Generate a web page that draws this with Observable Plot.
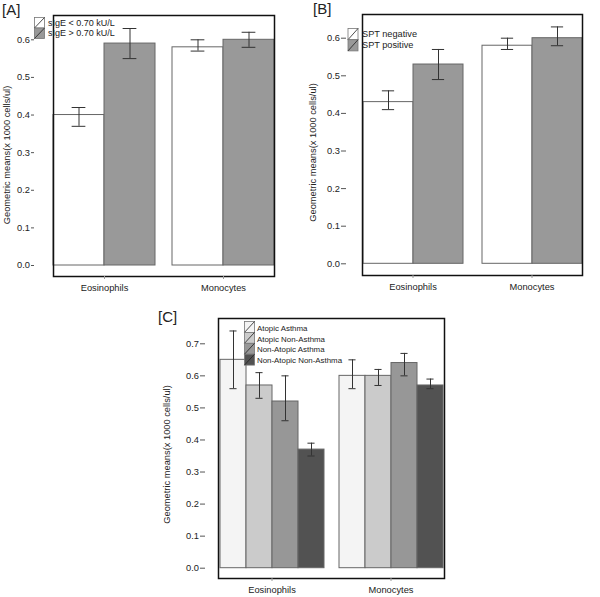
<!DOCTYPE html>
<html>
<head>
<meta charset="utf-8">
<script src="https://cdn.jsdelivr.net/npm/d3@7"></script>
<script src="https://cdn.jsdelivr.net/npm/@observablehq/plot@0.6"></script>
<style>
  html, body { margin: 0; padding: 0; background: #fff; }
  #root { position: relative; width: 600px; height: 597px; overflow: hidden; background: #fff; }
  #root svg { position: absolute; overflow: visible; }
</style>
</head>
<body>
<div id="root"></div>
<script>
// ---------- data ----------
const cells = ["Eosinophils", "Monocytes"];
const yTitle = "Geometric means(x 1000 cells/ul)";

// Panel A
const groupsA = ["sIgE < 0.70 kU/L", "sIgE > 0.70 kU/L"];
const meanA = [[0.40, 0.59], [0.58, 0.60]];
const lowA  = [[0.37, 0.55], [0.57, 0.58]];
const highA = [[0.42, 0.63], [0.60, 0.62]];
const ticksA = [0, 0.1, 0.2, 0.3, 0.4, 0.5, 0.6];

// Panel B
const groupsB = ["SPT negative", "SPT positive"];
const meanB = [[0.43, 0.53], [0.58, 0.60]];
const lowB  = [[0.41, 0.49], [0.57, 0.58]];
const highB = [[0.46, 0.57], [0.60, 0.63]];
const ticksB = [0, 0.1, 0.2, 0.3, 0.4, 0.5, 0.6];

// Panel C
const groupsC = ["Atopic Asthma", "Atopic Non-Asthma", "Non-Atopic Asthma", "Non-Atopic Non-Asthma"];
const meanC = [[0.65, 0.57, 0.52, 0.37], [0.60, 0.60, 0.64, 0.57]];
const lowC  = [[0.56, 0.53, 0.46, 0.35], [0.56, 0.57, 0.60, 0.56]];
const highC = [[0.74, 0.61, 0.60, 0.39], [0.65, 0.62, 0.67, 0.59]];
const ticksC = [0, 0.1, 0.2, 0.3, 0.4, 0.5, 0.6, 0.7];

// ---------- drawing ----------
const FONT = "'Liberation Sans', Arial, Helvetica, sans-serif";

function panel(cfg) {
  const data = cells.flatMap((c, i) => cfg.groups.map((g, j) => ({
    cell: c, group: g, mean: cfg.mean[i][j], low: cfg.low[i][j], high: cfg.high[i][j]
  })));
  const n = cells.length, p = cfg.fxPad;
  const step = (cfg.fxRange[1] - cfg.fxRange[0]) / (n - p);
  const bandwidth = step * (1 - p);
  const barW = bandwidth / cfg.groups.length;
  const inset = (barW - cfg.cap) / 2;
  const err = {fx: "cell", x: "group", stroke: "#333", strokeWidth: 1};
  const plot = Plot.plot({
    width: cfg.width, height: cfg.height,
    marginLeft: cfg.m[3], marginTop: cfg.m[0], marginRight: cfg.m[1], marginBottom: cfg.m[2],
    style: {fontFamily: FONT, fontSize: cfg.fs + "px", color: "#222", background: "transparent", overflow: "visible"},
    fx: {domain: cells, range: cfg.fxRange, paddingInner: p, paddingOuter: 0},
    x: {domain: cfg.groups, padding: 0, axis: null},
    y: {domain: [0, cfg.ticks[cfg.ticks.length - 1]], range: cfg.yRange},
    color: {domain: cfg.groups, range: cfg.colors},
    marks: [
      Plot.barY(data, {fx: "cell", x: "group", y: "mean", fill: "group", stroke: "#666", strokeWidth: 1}),
      Plot.ruleX(data, {...err, y1: "low", y2: "high"}),
      Plot.tickY(data, {...err, y: "low", insetLeft: inset, insetRight: inset}),
      Plot.tickY(data, {...err, y: "high", insetLeft: inset, insetRight: inset}),
      Plot.frame({facet: "super", stroke: "#111", strokeWidth: 1.5}),
      Plot.axisY({ticks: cfg.ticks, tickFormat: ".1f", tickSize: cfg.tickSize, tickPadding: 1.5, label: null,
                  fontSize: cfg.fs, stroke: "#555", dx: cfg.m[3] - cfg.fxRange[0]}),
      Plot.axisFx({anchor: "bottom", tickSize: 3, tickPadding: 5, label: null, fontSize: cfg.fs, stroke: "#999"})
    ]
  });
  plot.style.left = cfg.left + "px";
  plot.style.top = cfg.top + "px";

  const color = plot.scale("color");
  const svg = d3.select(plot);
  // y axis title
  svg.append("text")
    .attr("transform", `translate(${cfg.titleX},${cfg.titleY}) rotate(-90)`)
    .attr("text-anchor", "middle").attr("dominant-baseline", "central")
    .attr("font-family", FONT).attr("font-size", cfg.fs).attr("fill", "#222").text(yTitle);
  // legend swatches (R-style with a diagonal stroke)
  const lg = svg.append("g").attr("font-family", FONT).attr("font-size", cfg.lfs).attr("text-anchor", "start");
  cfg.groups.forEach((g, i) => {
    const x0 = cfg.lx, y0 = cfg.ly + i * cfg.lh;
    lg.append("rect").attr("x", x0).attr("y", y0).attr("width", 10).attr("height", cfg.lh)
      .attr("fill", color.apply(g)).attr("stroke", "#777").attr("stroke-width", 0.8);
    lg.append("line").attr("x1", x0).attr("y1", y0 + cfg.lh).attr("x2", x0 + 10).attr("y2", y0)
      .attr("stroke", "#222").attr("stroke-width", 0.8);
    lg.append("text").attr("x", x0 + cfg.ltx).attr("y", y0 + cfg.lh / 2 + cfg.ltdy)
      .attr("dominant-baseline", "central").attr("fill", "#222").text(g);
  });
  // panel tag
  svg.append("text").attr("x", cfg.tagX).attr("y", cfg.tagY).attr("text-anchor", "start")
    .attr("font-family", FONT).attr("font-size", 15).attr("fill", "#222").text(cfg.tag);
  document.getElementById("root").appendChild(plot);
}

panel({
  tag: "[A]", tagX: 2, tagY: 15,
  groups: groupsA, mean: meanA, low: lowA, high: highA, ticks: ticksA,
  colors: ["#ffffff", "#999999"],
  left: 0, top: 0, width: 300, height: 297, m: [15, 9, 21, 34],
  fxRange: [53, 275], fxPad: 0.142, cap: 14,
  yRange: [265, 39.3], tickSize: 3, fs: 9.3,
  titleX: 7, titleY: 155,
  lx: 34.5, ly: 17.5, lh: 10.5, ltx: 13.5, ltdy: 0, lfs: 9
});

panel({
  tag: "[B]", tagX: 13, tagY: 14,
  groups: groupsB, mean: meanB, low: lowB, high: highB, ticks: ticksB,
  colors: ["#ffffff", "#999999"],
  left: 300, top: 0, width: 300, height: 297, m: [14, 2, 22, 46],
  fxRange: [62, 283], fxPad: 0.15, cap: 13,
  yRange: [263.3, 37.7], tickSize: 5, fs: 9.3,
  titleX: 13, titleY: 152.5,
  lx: 48, ly: 28.5, lh: 11.2, ltx: 14, ltdy: 0, lfs: 9.2
});

panel({
  tag: "[C]", tagX: 8, tagY: 22,
  groups: groupsC, mean: meanC, low: lowC, high: highC, ticks: ticksC,
  colors: ["#f4f4f4", "#cbcbcb", "#979797", "#525252"],
  left: 150, top: 300, width: 310, height: 297, m: [18, 10, 19, 55],
  fxRange: [68, 295], fxPad: 0.1, cap: 8,
  yRange: [267.7, 43.3], tickSize: 5, fs: 9.3,
  titleX: 17, titleY: 154.5,
  lx: 94.5, ly: 21.5, lh: 10.9, ltx: 12.5, ltdy: 1.2, lfs: 7.9
});
</script>
</body>
</html>
